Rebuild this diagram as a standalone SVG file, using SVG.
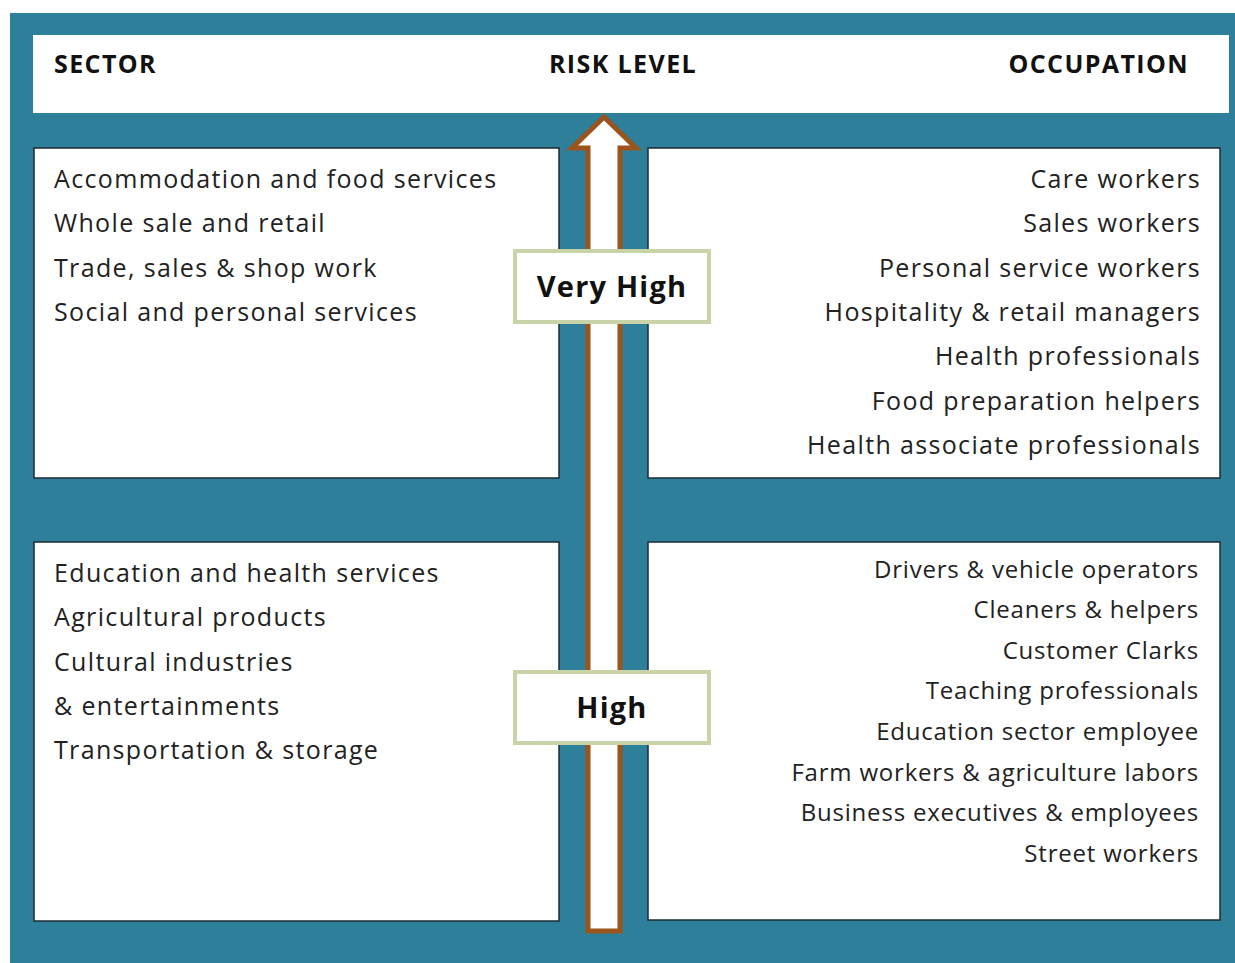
<svg xmlns="http://www.w3.org/2000/svg" width="1235" height="963" viewBox="0 0 1235 963">
<style>
.bg{fill:#2e7f9a}
.box{fill:#fff;stroke:#1d2b33;stroke-width:1.5}
.hdr{fill:#fff}
.t{font-family:"Open Sans","Noto Sans",sans-serif;font-size:25px;fill:#222;letter-spacing:1.35px}
.ts{font-family:"Open Sans","Noto Sans",sans-serif;font-size:24px;fill:#222;letter-spacing:0.8px}
.h{font-family:"Open Sans","Noto Sans",sans-serif;font-size:25px;font-weight:bold;fill:#111;letter-spacing:1.4px}
.lbl{fill:#fff;stroke:#c8d4a8;stroke-width:4}
.lt{font-family:"Open Sans","Noto Sans",sans-serif;font-size:29px;font-weight:bold;fill:#111;text-anchor:middle;letter-spacing:1.2px}
.r{text-anchor:end}
</style>
<rect width="1235" height="963" fill="#fff"/>
<rect class="bg" x="10" y="13" width="1225" height="950"/>
<g id="header">
<rect class="hdr" x="33" y="35" width="1196" height="78"/>
<text class="h" x="54" y="73">SECTOR</text>
<text class="h" x="623" y="73" text-anchor="middle">RISK LEVEL</text>
<text class="h r" x="1189" y="73">OCCUPATION</text>
</g>
<g id="sector-very-high">
<rect class="box" x="34" y="148" width="525" height="330"/>
<text class="t" x="54" y="188">Accommodation and food services</text>
<text class="t" x="54" y="232">Whole sale and retail</text>
<text class="t" x="54" y="277">Trade, sales &amp; shop work</text>
<text class="t" x="54" y="321">Social and personal services</text>
</g>
<g id="occupation-very-high">
<rect class="box" x="648" y="148" width="572" height="330"/>
<text class="t r" x="1201" y="188">Care workers</text>
<text class="t r" x="1201" y="232">Sales workers</text>
<text class="t r" x="1201" y="277">Personal service workers</text>
<text class="t r" x="1201" y="321">Hospitality &amp; retail managers</text>
<text class="t r" x="1201" y="365">Health professionals</text>
<text class="t r" x="1201" y="410">Food preparation helpers</text>
<text class="t r" x="1201" y="454">Health associate professionals</text>
</g>
<g id="sector-high">
<rect class="box" x="34" y="542" width="525" height="379"/>
<text class="t" x="54" y="582">Education and health services</text>
<text class="t" x="54" y="626">Agricultural products</text>
<text class="t" x="54" y="671">Cultural industries</text>
<text class="t" x="54" y="715">&amp; entertainments</text>
<text class="t" x="54" y="759">Transportation &amp; storage</text>
</g>
<g id="occupation-high">
<rect class="box" x="648" y="542" width="572" height="378"/>
<text class="ts r" x="1199" y="578">Drivers &amp; vehicle operators</text>
<text class="ts r" x="1199" y="618">Cleaners &amp; helpers</text>
<text class="ts r" x="1199" y="659">Customer Clarks</text>
<text class="ts r" x="1199" y="699">Teaching professionals</text>
<text class="ts r" x="1199" y="740">Education sector employee</text>
<text class="ts r" x="1199" y="781">Farm workers &amp; agriculture labors</text>
<text class="ts r" x="1199" y="821">Business executives &amp; employees</text>
<text class="ts r" x="1199" y="862">Street workers</text>
</g>
<g id="connectors">
<path d="M604 117 L636 148 L620 148 L620 931 L588 931 L588 148 L572 148 Z" fill="#fff" stroke="#9a541c" stroke-width="5" stroke-linejoin="miter"/>
</g>
<g id="label-very-high">
<rect class="lbl" x="515" y="251" width="194" height="71"/>
<text class="lt" x="612" y="297">Very High</text>
</g>
<g id="label-high">
<rect class="lbl" x="515" y="672" width="194" height="71"/>
<text class="lt" x="612" y="718">High</text>
</g>
</svg>
